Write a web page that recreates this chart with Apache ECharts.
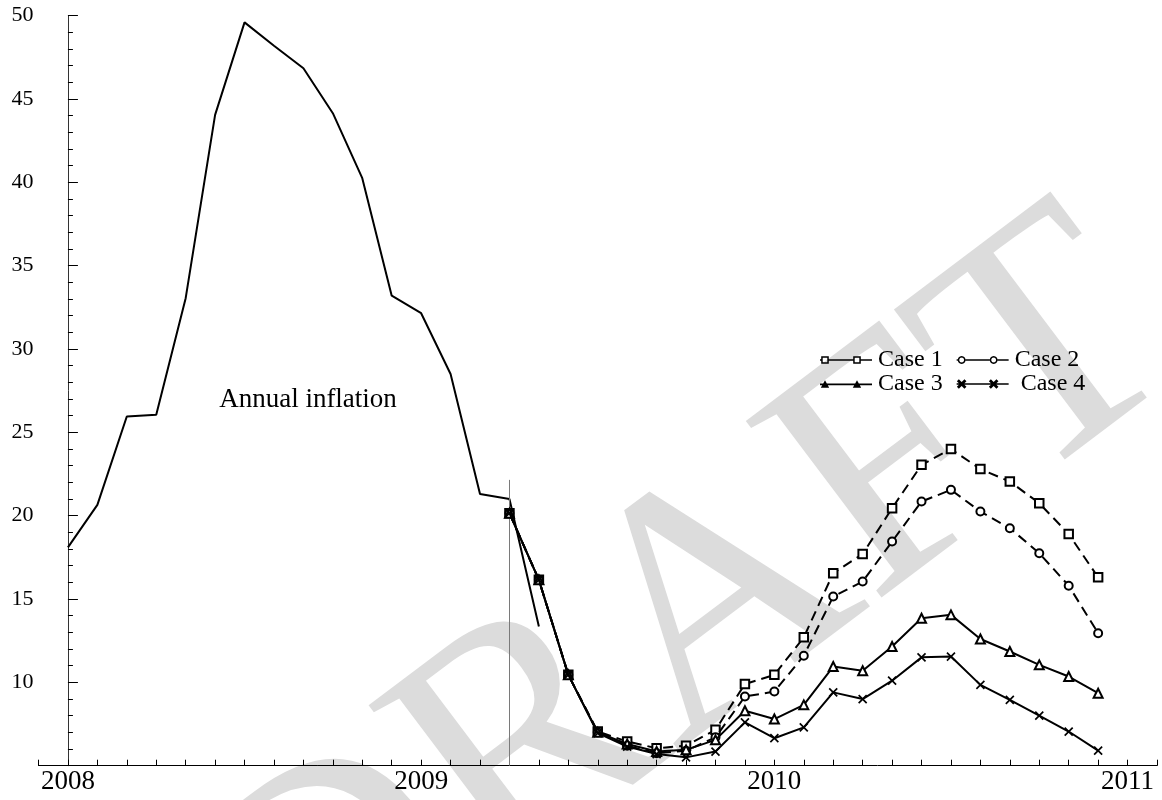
<!DOCTYPE html>
<html>
<head>
<meta charset="utf-8">
<script src="https://cdn.jsdelivr.net/npm/echarts@6/dist/echarts.min.js"></script>
<style>
html,body{margin:0;padding:0;background:#fff;}
#chart{width:1162px;height:800px;}
</style>
</head>
<body>
<div id="chart"></div>
<script>
// ---------- data ----------
const yearLabels = ['2008', '2009', '2010', '2011'];
const annualDates = ['2008-01','2008-02','2008-03','2008-04','2008-05','2008-06','2008-07','2008-08','2008-09','2008-10','2008-11','2008-12','2009-01','2009-02','2009-03','2009-04','2009-05'];
const annualValues = [18.1, 20.65, 25.95, 26.05, 33.05, 44.05, 49.6, 48.2, 46.85, 44.15, 40.25, 33.2, 32.15, 28.5, 21.3, 21.0, 13.35];
const caseDates = ['2009-04','2009-05','2009-06','2009-07','2009-08','2009-09','2009-10','2009-11','2009-12','2010-01','2010-02','2010-03','2010-04','2010-05','2010-06','2010-07','2010-08','2010-09','2010-10','2010-11','2010-12'];
const case1 = [20.15, 16.15, 10.45, 7.05, 6.45, 6.05, 6.2, 7.15, 9.9, 10.45, 12.7, 16.55, 17.7, 20.45, 23.05, 24.0, 22.8, 22.05, 20.75, 18.9, 16.3];
const case2 = [20.15, 16.15, 10.45, 7.0, 6.2, 5.75, 5.9, 6.7, 9.15, 9.45, 11.6, 15.15, 16.05, 18.45, 20.85, 21.55, 20.25, 19.25, 17.75, 15.8, 12.95];
const case3 = [20.15, 16.15, 10.45, 7.0, 6.3, 5.85, 5.95, 6.55, 8.3, 7.8, 8.65, 10.95, 10.7, 12.15, 13.85, 14.05, 12.6, 11.85, 11.05, 10.35, 9.35];
const case4 = [20.15, 16.15, 10.45, 6.95, 6.15, 5.7, 5.5, 5.85, 7.6, 6.65, 7.3, 9.4, 9.0, 10.1, 11.5, 11.55, 9.85, 8.95, 8.0, 7.05, 5.9];
const caseNames = ['Case 1', 'Case 2', 'Case 3', 'Case 4'];
const cutoffDate = '2009-04';
const cutoffTop = 22.15;
const annualLabel = 'Annual inflation';
const watermarkText = 'DRAFT';

// ---------- helpers ----------
const baseYear = 2008;
function monthIndex(s) {
  const p = s.split('-');
  return (parseInt(p[0], 10) - baseYear) * 12 + (parseInt(p[1], 10) - 1);
}
function pairs(dates, vals) { return dates.map((d, i) => [monthIndex(d), vals[i]]); }

// legend icon paths built from polygons (nonzero fill rule)
function area(pts){let a=0;for(let i=0;i<pts.length;i++){const p=pts[i],q=pts[(i+1)%pts.length];a+=p[0]*q[1]-q[0]*p[1];}return a/2;}
function poly(pts, hole){
  let a = area(pts);
  if ((a < 0) !== !!hole) pts = pts.slice().reverse();
  return 'M' + pts.map(p => p[0].toFixed(2) + ',' + p[1].toFixed(2)).join('L') + 'Z';
}
function rect(x0,y0,x1,y1,hole){return poly([[x0,y0],[x1,y0],[x1,y1],[x0,y1]],hole);}
function circlePts(cx,cy,r){const a=[];for(let i=0;i<28;i++){const t=i/28*Math.PI*2;a.push([cx+r*Math.cos(t),cy+r*Math.sin(t)]);}return a;}
const W = 52, H = 12, CY = 6, LT = 1.6, M1 = 5, M2 = 37;
function lineSegs(gaps){
  let s = '', x = 0;
  gaps.forEach(g => { if (g[0] > x) s += rect(x, CY - LT/2, g[0], CY + LT/2); x = g[1]; });
  if (x < W) s += rect(x, CY - LT/2, W, CY + LT/2);
  return s;
}
function iconSquare(){
  const h = 3.8, t = 1.5; let s = lineSegs([[M1-h,M1+h],[M2-h,M2+h]]);
  [M1,M2].forEach(c => { s += rect(c-h,CY-h,c+h,CY+h) + rect(c-h+t,CY-h+t,c+h-t,CY+h-t,true); });
  return 'path://' + s;
}
function iconCircle(){
  const r = 3.9, t = 1.5; let s = lineSegs([[M1-r,M1+r],[M2-r,M2+r]]);
  [M1,M2].forEach(c => { s += poly(circlePts(c,CY,r)) + poly(circlePts(c,CY,r-t),true); });
  return 'path://' + s;
}
function iconTriangle(){
  const h = 4.2; let s = lineSegs([]);
  [M1,M2].forEach(c => { s += poly([[c,CY-h],[c+h,CY+h*0.8],[c-h,CY+h*0.8]]); });
  return 'path://' + s;
}
function iconCross(){
  const h = 3.8, d = 1.0; let s = lineSegs([]);
  [M1,M2].forEach(c => {
    s += poly([[c-h-d,CY-h+d],[c-h+d,CY-h-d],[c+h+d,CY+h-d],[c+h-d,CY+h+d]]);
    s += poly([[c-h-d,CY+h-d],[c+h-d,CY-h-d],[c+h+d,CY-h+d],[c-h+d,CY+h+d]]);
  });
  return 'path://' + s;
}
const legendIcons = {'Case 1': iconSquare(), 'Case 2': iconCircle(), 'Case 3': iconTriangle(), 'Case 4': iconCross()};

const FONT = '"Liberation Serif", "Times New Roman", serif';
const caseData = [case1, case2, case3, case4];
const symbols = ['emptyRect', 'emptyCircle', 'emptyTriangle', 'path://M0,0L10,10M0,10L10,0'];
const symbolSizes = [8.5, 8, 9, 8];
const dashed = [true, true, false, false];

const series = [{
  name: annualLabel,
  type: 'line',
  data: pairs(annualDates, annualValues),
  showSymbol: false,
  lineStyle: {color: '#000', width: 2},
  itemStyle: {color: '#000'},
  z: 3,
  silent: true,
  markLine: {
    silent: true,
    symbol: ['none', 'none'],
    label: {show: false},
    lineStyle: {color: '#7a7a7a', width: 1, type: 'solid'},
    data: [[{coord: [monthIndex(cutoffDate), 5]}, {coord: [monthIndex(cutoffDate), cutoffTop]}]]
  }
}];
caseNames.forEach((n, i) => {
  series.push({
    name: n,
    type: 'line',
    data: pairs(caseDates, caseData[i]),
    symbol: symbols[i],
    symbolSize: symbolSizes[i],
    showAllSymbol: true,
    lineStyle: {color: '#000', width: 2, type: dashed[i] ? [10, 6] : 'solid'},
    itemStyle: {color: '#000', borderColor: '#000', borderWidth: 1.7},
    z: 4 + i,
    silent: true
  });
});

function legendFor(names, top) {
  return {
    data: names.map(n => ({name: n, icon: legendIcons[n]})),
    left: 815, top: top,
    orient: 'horizontal',
    itemWidth: W, itemHeight: H,
    itemGap: 14,
    selectedMode: false,
    formatter: n => n === 'Case 4' ? ' ' + n : n,
    textStyle: {fontFamily: FONT, fontSize: 24, color: '#000', padding: [0, 0, 0, 1]},
    itemStyle: {color: '#000', borderWidth: 0},
    lineStyle: {width: 0}
  };
}

const chart = echarts.init(document.getElementById('chart'), null, {renderer: 'canvas'});
chart.setOption({
  animation: false,
  backgroundColor: '#fff',
  grid: {left: 38.5, right: 5, top: 15.7, bottom: 34.3, containLabel: false},
  legend: [legendFor(['Case 1', 'Case 2'], 343), legendFor(['Case 3', 'Case 4'], 367)],
  xAxis: {
    type: 'value', min: -1, max: 37, interval: 1,
    axisLine: {show: true, lineStyle: {color: '#000', width: 1}},
    axisTick: {show: true, inside: true, length: 6, lineStyle: {color: '#000', width: 1}},
    splitLine: {show: false},
    axisLabel: {
      margin: 3, color: '#000', fontFamily: FONT, fontSize: 27,
      formatter: v => (v >= 0 && v % 12 === 0) ? yearLabels[v / 12] : ''
    }
  },
  yAxis: {
    type: 'value', min: 5, max: 50, interval: 5,
    axisLine: {show: true, lineStyle: {color: '#333', width: 1}},
    axisTick: {show: true, inside: true, length: 10, lineStyle: {color: '#000', width: 1}},
    minorTick: {show: true, splitNumber: 5, length: 5, lineStyle: {color: '#000', width: 1}},
    splitLine: {show: false},
    axisLabel: {
      margin: 5, color: '#000', fontFamily: FONT, fontSize: 22,
      formatter: v => v === 5 ? '' : String(v)
    }
  },
  graphic: [
    {
      type: 'text', x: 690, y: 630, rotation: 37 * Math.PI / 180, z: -10, silent: true,
      style: {text: watermarkText, font: '340px ' + FONT, fill: '#dcdcdc', align: 'center', verticalAlign: 'middle'}
    },
    {
      type: 'text', x: 308, y: 400, z: 10, silent: true,
      style: {text: annualLabel, font: '27px ' + FONT, fill: '#000', align: 'center', verticalAlign: 'middle'}
    }
  ],
  series: series
});
</script>
</body>
</html>
